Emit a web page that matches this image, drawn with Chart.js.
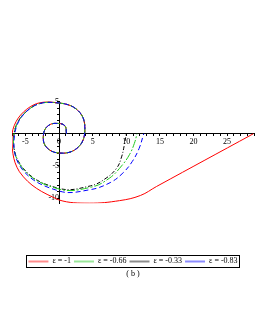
<!DOCTYPE html>
<html>
<head>
<meta charset="utf-8">
<script src="https://cdn.jsdelivr.net/npm/chart.js@4.4.1/dist/chart.umd.min.js"></script>
<style>
  html, body { margin: 0; padding: 0; background: #fff; }
  #wrap { width: 273px; height: 327px; }
</style>
</head>
<body>
<div id="wrap"><canvas id="spiral-chart"></canvas></div>
<script>
// inner turns of the spiral, shared by all four curves
const innerX = [1.1, 0.9, 0, -1.5, -2.3, -1.95, 0, 2.55, 3.8, 3.1, 0];
const innerY = [0, 1.2, 1.6, 1.35, 0, -2.0, -3.0, -2.35, 0, 3.3, 4.8];

// outer part of each curve
const redX = [-4.3, -7.0, -5.9, 0, 4.5, 9.0, 12.1, 14.5, 28.9];
const redY = [4.2, 0, -5.9, -10.3, -10.8, -10.4, -9.6, -8.2, 0];
const greenX = [-4.1, -6.7, -5.4, 0, 4.8, 7.5, 9.3, 10.5, 11.2, 11.6];
const greenY = [4.1, 0, -5.4, -8.6, -8.3, -6.9, -5.0, -3.2, -1.5, 0];
const blackX = [-4.1, -6.7, -5.35, 0, 4.7, 7.0, 8.6, 9.3, 9.7, 10.0];
const blackY = [4.1, 0, -5.35, -8.5, -8.1, -6.9, -5.3, -3.6, -1.8, 0];
const blueX = [-4.1, -6.6, -5.5, 0, 4.6, 7.6, 9.5, 10.9, 11.9, 12.6];
const blueY = [4.1, 0, -5.5, -8.9, -8.7, -7.6, -6.1, -4.3, -2.3, 0];

const epsLabels = ["ε = -1", "ε = -0.66", "ε = -0.33", "ε = -0.83"];
const captionText = "( b )";

function toPoints(xs, ys) {
  const xAll = innerX.concat(xs);
  const yAll = innerY.concat(ys);
  return xAll.map((x, i) => ({ x: x, y: yAll[i] }));
}

const serif = "'Liberation Serif', 'DejaVu Serif', serif";

// thin frame round the legend, like the original plot
const legendFrame = {
  id: "legendFrame",
  afterDraw(chart) {
    const boxes = chart.legend && chart.legend.legendHitBoxes;
    if (!boxes || !boxes.length) return;
    const left = Math.min(...boxes.map((b) => b.left)) - 2;
    const right = Math.max(...boxes.map((b) => b.left + b.width)) + 2;
    const top = Math.min(...boxes.map((b) => b.top)) - 2;
    const bottom = Math.max(...boxes.map((b) => b.top + b.height)) + 2;
    const ctx = chart.ctx;
    ctx.save();
    ctx.strokeStyle = "#000";
    ctx.lineWidth = 1;
    ctx.strokeRect(Math.round(left) + 0.5, Math.round(top) + 0.5,
      Math.round(right - left), Math.round(bottom - top));
    ctx.restore();
  },
};

const ctx = document.getElementById("spiral-chart").getContext("2d");
const defaultLabels = Chart.defaults.plugins.legend.labels.generateLabels;

new Chart(ctx, {
  type: "scatter",
  data: {
    datasets: [
      {
        label: epsLabels[0],
        data: toPoints(redX, redY),
        borderColor: "#ff0000",
        order: 3,
      },
      {
        label: epsLabels[1],
        data: toPoints(greenX, greenY),
        borderColor: "#1ec81e",
        borderDash: [8, 2, 2, 2],
        order: 2,
      },
      {
        label: epsLabels[2],
        data: toPoints(blackX, blackY),
        borderColor: "#000000",
        borderDash: [4, 2, 1, 2],
        order: 4,
      },
      {
        label: epsLabels[3],
        data: toPoints(blueX, blueY),
        borderColor: "#0000ff",
        borderDash: [5, 3],
        order: 1,
      },
    ].map((d) => Object.assign({
      showLine: true,
      fill: false,
      borderWidth: 1,
      tension: 0.4,
      pointRadius: 0,
      pointHoverRadius: 0,
      pointStyle: "line",
    }, d)),
  },
  options: {
    responsive: true,
    maintainAspectRatio: false,
    animation: false,
    layout: {
      padding: { left: 12, right: 19, top: 101, bottom: 48 },
    },
    plugins: {
      tooltip: { enabled: false },
      legend: {
        position: "bottom",
        align: "center",
        title: {
          display: true,
          text: "",
          padding: { top: 50, bottom: 0 },
          font: { size: 1 },
        },
        labels: {
          usePointStyle: true,
          pointStyle: "line",
          pointStyleWidth: 20,
          boxHeight: 8,
          padding: 3,
          color: "#000",
          font: { family: serif, size: 8 },
          sort: (a, b) => a.datasetIndex - b.datasetIndex,
          // legend samples are drawn a bit heavier and paler than the curves
          generateLabels: (chart) =>
            defaultLabels(chart).map((item) =>
              Object.assign(item, {
                lineWidth: 2,
                strokeStyle: Chart.helpers.color(item.strokeStyle).alpha(0.45).rgbString(),
              })
            ),
        },
      },
      title: {
        display: true,
        position: "bottom",
        text: captionText,
        color: "#000",
        font: { family: serif, size: 8, weight: "normal" },
        padding: { top: -6, bottom: 0 },
      },
    },
    scales: {
      x: {
        type: "linear",
        position: { y: 0 },
        min: -7,
        max: 29,
        grid: {
          drawOnChartArea: false,
          drawTicks: true,
          tickLength: 2,
          color: "#000",
        },
        border: { display: true, color: "#000", width: 1 },
        ticks: {
          stepSize: 1,
          autoSkip: false,
          includeBounds: false,
          maxRotation: 0,
          padding: 1,
          color: "#000",
          font: { family: serif, size: 8 },
          callback: (v) => (v % 5 === 0 ? String(v) : ""),
        },
      },
      y: {
        type: "linear",
        position: { x: 0 },
        min: -10.8,
        max: 5.1,
        grid: {
          drawOnChartArea: false,
          drawTicks: true,
          tickLength: 2,
          color: "#000",
        },
        border: { display: true, color: "#000", width: 1 },
        ticks: {
          stepSize: 1,
          autoSkip: false,
          includeBounds: false,
          padding: 2,
          color: "#000",
          font: { family: serif, size: 8 },
          callback: (v) => (v % 5 === 0 && v !== 0 ? String(v) : ""),
        },
      },
    },
  },
  plugins: [legendFrame],
});
</script>
</body>
</html>
